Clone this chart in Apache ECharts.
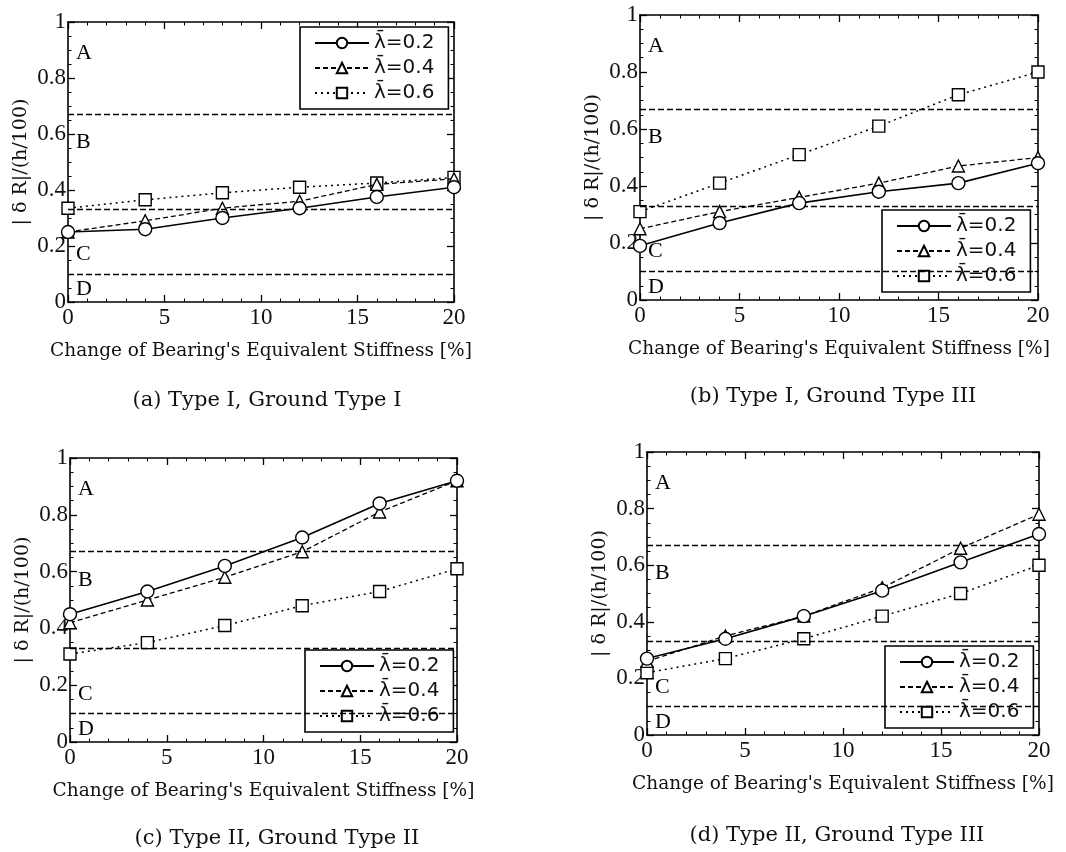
<!DOCTYPE html>
<html>
<head>
<meta charset="utf-8">
<script src="https://cdn.jsdelivr.net/npm/echarts@6/dist/echarts.min.js"></script>
<style>
html,body{margin:0;padding:0;background:#fff;}
#chart{width:1066px;height:852px;}
</style>
</head>
<body>
<div id="chart"></div>
<script>
// ---- data ----
const xValues = [0, 4, 8, 12, 16, 20];
const seriesNames = ['λ̄=0.2', 'λ̄=0.4', 'λ̄=0.6'];

const a_l02 = [0.25, 0.26, 0.30, 0.335, 0.375, 0.41];
const a_l04 = [0.25, 0.29, 0.335, 0.36, 0.42, 0.44];
const a_l06 = [0.335, 0.365, 0.39, 0.41, 0.425, 0.445];

const b_l02 = [0.19, 0.27, 0.34, 0.38, 0.41, 0.48];
const b_l04 = [0.25, 0.31, 0.36, 0.41, 0.47, 0.50];
const b_l06 = [0.31, 0.41, 0.51, 0.61, 0.72, 0.80];

const c_l02 = [0.45, 0.53, 0.62, 0.72, 0.84, 0.92];
const c_l04 = [0.42, 0.50, 0.58, 0.67, 0.81, 0.92];
const c_l06 = [0.31, 0.35, 0.41, 0.48, 0.53, 0.61];

const d_l02 = [0.27, 0.34, 0.42, 0.51, 0.61, 0.71];
const d_l04 = [0.26, 0.35, 0.42, 0.52, 0.66, 0.78];
const d_l06 = [0.22, 0.27, 0.34, 0.42, 0.50, 0.60];

const zoneBounds = [0.667, 0.333, 0.1];
const zoneLabels = ['A', 'B', 'C', 'D'];
const zoneLabelY = [0.89, 0.57, 0.17, 0.045];

const captions = ['(a) Type I, Ground Type I', '(b) Type I, Ground Type III',
                  '(c) Type II, Ground Type II', '(d) Type II, Ground Type III'];
const xAxisName = "Change of Bearing's Equivalent Stiffness [%]";
const yAxisName = '| δ R|/(h/100)';

const panelData = [
  [a_l02, a_l04, a_l06],
  [b_l02, b_l04, b_l06],
  [c_l02, c_l04, c_l06],
  [d_l02, d_l04, d_l06]
];

// ---- layout ----
const grids = [
  {left: 68, top: 22, width: 386, height: 280},
  {left: 640, top: 15, width: 398, height: 285},
  {left: 70, top: 458, width: 387, height: 284},
  {left: 647, top: 452, width: 392, height: 283}
];
const legendPos = [
  {left: 300, top: 27},
  {left: 882, top: 210},
  {left: 305, top: 650},
  {left: 885, top: 646}
];
const captionPos = [
  {left: 262, top: 385},
  {left: 828, top: 381},
  {left: 272, top: 823},
  {left: 832, top: 820}
];

const serif = '"Liberation Serif", "DejaVu Serif", serif';
const wideSerif = '"DejaVu Serif", "Liberation Serif", serif';
const styles = [
  {symbol: 'circle', size: 13, type: 'solid', width: 1.6},
  {symbol: 'triangle', size: 12, type: [5, 3], width: 1.3},
  {symbol: 'rect', size: 12, type: [2, 4], width: 1.5}
];

const xAxes = [], yAxes = [], series = [], legends = [], titles = [];
grids.forEach((g, i) => {
  const tickCommon = {inside: true, length: 7, lineStyle: {color: '#000', width: 1.3}};
  const minorCommon = {show: true, length: 3.5, lineStyle: {color: '#000', width: 1}};
  xAxes.push({
    type: 'value', gridIndex: i, min: 0, max: 20, interval: 5, position: 'bottom',
    name: xAxisName, nameLocation: 'middle', nameGap: 40,
    nameTextStyle: {fontFamily: wideSerif, fontSize: 18.5, color: '#111'},
    axisLine: {show: true, onZero: false, lineStyle: {color: '#000', width: 1.6}},
    axisTick: tickCommon,
    minorTick: Object.assign({splitNumber: 5}, minorCommon),
    axisLabel: {fontFamily: serif, fontSize: 23, color: '#111', margin: 4},
    splitLine: {show: false}
  });
  xAxes.push({
    type: 'value', gridIndex: i, min: 0, max: 20, interval: 5, position: 'top',
    axisLine: {show: true, onZero: false, lineStyle: {color: '#000', width: 1.6}},
    axisTick: tickCommon,
    minorTick: Object.assign({splitNumber: 5}, minorCommon),
    axisLabel: {show: false}, splitLine: {show: false}
  });
  yAxes.push({
    type: 'value', gridIndex: i, min: 0, max: 1, interval: 0.2, position: 'left',
    name: yAxisName, nameLocation: 'middle', nameGap: 37, nameRotate: 90,
    nameTextStyle: {fontFamily: wideSerif, fontSize: 19, color: '#111'},
    axisLine: {show: true, onZero: false, lineStyle: {color: '#000', width: 1.6}},
    axisTick: tickCommon,
    minorTick: Object.assign({splitNumber: 4}, minorCommon),
    axisLabel: {fontFamily: serif, fontSize: 23, color: '#111', margin: 2},
    splitLine: {show: false}
  });
  yAxes.push({
    type: 'value', gridIndex: i, min: 0, max: 1, interval: 0.2, position: 'right',
    axisLine: {show: true, onZero: false, lineStyle: {color: '#000', width: 1.6}},
    axisTick: tickCommon,
    minorTick: Object.assign({splitNumber: 4}, minorCommon),
    axisLabel: {show: false}, splitLine: {show: false}
  });

  panelData[i].forEach((vals, k) => {
    const st = styles[k];
    const s = {
      name: seriesNames[k], type: 'line', xAxisIndex: 2 * i, yAxisIndex: 2 * i,
      data: xValues.map((x, j) => [x, vals[j]]),
      symbol: st.symbol, symbolSize: st.size, showAllSymbol: true,
      lineStyle: {color: '#000', width: st.width, type: st.type},
      itemStyle: {color: '#fff', borderColor: '#000', borderWidth: 1.4},
      z: 5 - k, animation: false
    };
    if (k === 0) {
      s.markLine = {
        silent: true, symbol: 'none', animation: false,
        label: {show: false},
        lineStyle: {color: '#000', width: 1.3, type: [6, 3]},
        data: zoneBounds.map(v => ({yAxis: v}))
      };
    }
    series.push(s);
  });
  series.push({
    name: 'zones', type: 'scatter', xAxisIndex: 2 * i, yAxisIndex: 2 * i,
    symbolSize: 0, silent: true, animation: false,
    itemStyle: {opacity: 1, color: '#000'},
    data: zoneLabelY.map((y, j) => ({value: [0, y], label: {formatter: zoneLabels[j]}})),
    label: {show: true, position: 'right', distance: 8, fontFamily: serif, fontSize: 22, color: '#000', opacity: 1}
  });

  legends.push({
    data: seriesNames, orient: 'vertical',
    left: legendPos[i].left, top: legendPos[i].top,
    itemWidth: 54, itemHeight: 13, itemGap: 3,
    padding: [5, 14, 5, 14],
    borderColor: '#000', borderWidth: 1.6, backgroundColor: '#fff',
    selectedMode: false,
    textStyle: {fontFamily: '"DejaVu Sans", "Liberation Sans", sans-serif', fontSize: 20, color: '#111', lineHeight: 22}
  });

  titles.push({
    text: captions[i], left: captionPos[i].left, top: captionPos[i].top, textAlign: 'center',
    textStyle: {fontFamily: wideSerif, fontSize: 21, fontWeight: 'normal', color: '#111'}
  });
});

const chart = echarts.init(document.getElementById('chart'), null, {renderer: 'canvas'});
chart.setOption({
  backgroundColor: '#fff',
  animation: false,
  title: titles,
  grid: grids,
  xAxis: xAxes,
  yAxis: yAxes,
  legend: legends,
  series: series
});
</script>
</body>
</html>
